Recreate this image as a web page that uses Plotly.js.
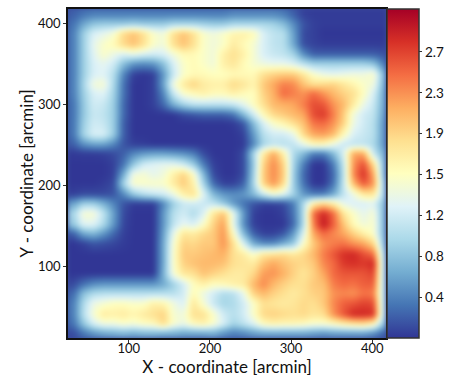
<!DOCTYPE html>
<html>
<head>
<meta charset="utf-8">
<script src="https://cdn.plot.ly/plotly-3.0.1.min.js"></script>
<style>html,body{margin:0;padding:0;background:#fff}</style>
</head>
<body>
<div id="chart" style="width:463px;height:386px"></div>
<script>
var xCoord = [31,43,56,68,80,93,105,117,130,142,154,167,179,191,204,216,228,241,253,265,278,290,302,315,327,339,352,364,376,389,401,413];
var yCoord = [412,400,388,375,363,351,338,326,314,301,289,277,264,252,240,227,215,203,190,178,166,153,141,129,116,104,92,79,67,55,42,30,18];

// estimated values, first row is the top of the map
var zRows = [
[.2,.3,.35,.35,.35,.35,.35,.35,.35,.35,.35,.35,.35,.35,.35,.35,.4,.4,.4,.4,.4,.35,.2,.05,.03,.03,.03,.03,.03,.03,.03,.03],
[.3,.6,.8,.85,.85,.85,.9,.85,.85,.85,.95,.95,.95,.9,.85,.85,.95,.95,.95,.95,.9,.75,.45,.15,.05,.03,.03,.03,.03,.03,.03,.03],
[.35,.85,1.2,1.3,1.45,1.9,2.05,1.85,1.5,1.4,1.85,2.05,1.85,1.5,1.4,1.5,1.65,1.7,1.6,1.2,1.05,1,.55,.1,.05,0,0,0,0,0,0,0],
[.35,.85,1.3,1.5,1.6,1.9,2.05,1.85,1.5,1.4,1.85,2.05,1.85,1.5,1.4,1.5,1.75,1.6,1.45,1.2,1.05,1,.6,.12,.06,.03,.03,.03,.03,.03,.03,.03],
[.35,.85,1.25,1.5,1.35,1.2,1.3,1.2,1.15,1.2,1.4,1.6,1.6,1.5,1.4,1.7,1.85,1.7,1.45,1.2,1.1,1.05,.9,.45,.2,.2,.2,.2,.2,.2,.2,.15],
[.35,.85,1.2,1.3,1.15,.75,.5,.45,.5,.75,1.2,1.5,1.6,1.5,1.4,1.7,1.8,1.6,1.45,1.35,1.3,1.3,1.2,1,.85,.85,.85,.85,.85,.85,.75,.35],
[.35,.85,1.2,1.25,1,.4,.05,0,.05,.5,1.1,1.5,1.6,1.6,1.55,1.55,1.6,1.6,1.6,1.85,1.95,2,2,1.8,1.5,1.35,1.3,1.35,1.4,1.4,1.5,.7],
[.35,.9,1.4,1.45,.95,.3,0,0,.05,.55,1.4,1.75,1.95,1.75,1.7,1.7,1.9,1.8,1.65,2,2.2,2.4,2.35,2.05,1.85,1.9,1.95,1.8,1.65,1.5,1.4,.65],
[.35,.85,1.2,1.25,.9,.3,0,0,.05,.4,1.1,1.5,1.6,1.7,1.6,1.6,1.7,1.6,1.55,1.95,2.15,2.5,2.4,2.3,2.5,2.3,2.1,1.95,1.85,1.55,1.2,.6],
[.3,.8,1.15,1.1,.85,.25,0,0,.05,.25,.65,.9,1.05,1.05,1.05,1.05,1.1,1.3,1.55,1.85,2.1,2.15,2.2,2.4,2.65,2.6,2.3,2.1,1.75,1.35,1.1,.6],
[.3,.8,1.1,1.05,.85,.25,0,0,0,0,0,.1,.15,.2,.2,.2,.3,.7,1.15,1.6,1.9,2,2.1,2.2,2.65,2.75,2.4,2,1.4,1.15,1.05,.55],
[.3,.85,1.15,1.1,.85,.2,0,0,0,0,0,0,0,0,0,0,.02,.15,.7,1.2,1.5,1.65,1.85,2.05,2.45,2.5,2.3,1.95,1.35,1.15,1,.5],
[.3,.9,1.2,1.2,.85,.2,0,0,0,0,0,0,0,0,0,0,0,.05,.5,1,1.15,1.15,1.3,1.9,2.2,2.25,2.1,1.6,1.2,1.1,1,.5],
[.2,.45,.55,.55,.4,.15,.05,.03,0,0,0,0,0,0,0,0,0,.02,.4,.9,1.05,1,1.05,1.3,1.6,1.6,1.35,1.1,1.05,1.05,.95,.5],
[.02,.03,.03,.05,.1,.2,.4,.5,.55,.55,.5,.45,.35,.1,0,0,0,.1,.9,1.75,2.2,1.7,.95,.7,.35,.35,.7,1.2,2.2,2.2,1.1,.65],
[0,0,0,0,.05,.3,.8,1.15,1.25,1.3,1.3,1.15,.85,.35,.05,0,0,.1,.8,1.95,2.35,1.95,.9,.35,0,0,.35,1.05,2.3,2.65,1.9,.7],
[0,0,0,0,.05,.6,1.4,1.45,1.3,1.4,1.7,1.95,1.55,.7,.1,0,0,.1,.85,2,2.35,2,.85,.25,0,0,.25,1,2.35,2.8,2.2,.7],
[0,0,0,.03,.1,.9,1.5,1.5,1.5,1.5,1.75,2,1.7,.9,.25,.05,.05,.2,.9,1.95,2.3,1.9,.85,.3,0,0,.3,1.05,2.1,2.6,2.3,.85],
[.05,.1,.1,.1,.15,.4,.8,1,1.1,1.15,1.35,1.7,1.85,1.25,.7,.5,.45,.5,.7,1.1,1.4,1.25,.9,.5,.35,.35,.6,1.05,1.35,1.75,1.8,.9],
[.55,.85,.85,.65,.4,.15,.03,.03,.03,.4,.85,1.1,1.15,1.1,1.05,.8,.5,.3,.15,.05,.05,.1,.35,.95,1.7,1.9,1.7,1.3,1.2,1.2,1.25,.75],
[.9,1.45,1.45,1.05,.55,.1,0,0,0,.5,1,1.15,.95,1.2,1.8,2.05,1.3,.5,.05,0,0,.05,.3,.95,2.5,2.85,2.5,1.8,1.5,1.3,1.45,.7],
[.8,1.25,1.25,.95,.5,.08,0,0,0,.5,1.05,1.3,1.2,1.5,1.95,2.25,1.3,.45,.05,0,0,0,.25,.95,2.4,2.95,2.55,2.05,1.6,1.4,1.5,.7],
[.2,.6,.7,.5,.25,.05,0,0,0,.55,1.3,1.8,1.75,1.9,2,2.3,1.55,.7,.2,.05,.05,.15,.5,1.2,2.2,2.5,2.35,2.2,1.95,1.7,1.5,.7],
[0,.05,.15,.12,.08,.03,0,0,0,.6,1.45,1.95,1.9,2,2,2.3,1.85,1.2,.6,.4,.4,.6,.8,1.5,2,2.3,2.4,2.45,2.3,2.2,1.9,.75],
[0,0,0,0,0,0,0,0,0,.6,1.5,2,2,2.05,2.1,2.15,1.85,1.75,1.5,1.8,1.85,1.9,1.8,1.9,2.1,2.4,2.6,2.8,2.85,2.65,2.5,.95],
[0,0,0,0,0,0,0,0,0,.6,1.5,1.95,2.05,2.1,2.1,2.05,1.85,1.8,1.75,2.05,2.2,2.05,1.95,1.9,2,2.35,2.5,2.75,2.8,2.75,2.85,1],
[0,0,0,0,0,0,0,0,0,.65,1.45,1.8,1.85,2.05,1.95,1.85,1.75,1.75,1.9,2.25,2.3,2.15,1.95,1.8,1.95,2.2,2.5,2.6,2.6,2.6,2.7,1],
[.1,.3,.45,.5,.5,.5,.5,.5,.5,.6,.85,1.15,1.55,1.7,1.55,1.6,1.7,1.75,2.1,2.35,2.1,1.95,1.85,1.85,2,2.05,2.4,2.5,2.45,2.55,2.55,1],
[.25,.75,.95,1,1,1,1,1,1,1,1,1.15,1.6,1.35,1.15,.95,1,1.3,1.95,2.1,1.95,1.85,1.75,1.85,1.95,2,2.3,2.35,2.3,2.45,2.4,1],
[.35,.95,1.35,1.45,1.55,1.55,1.5,1.5,1.7,1.65,1.4,1.2,1.8,1.45,1.1,.9,.95,1.15,1.5,1.85,1.8,1.75,1.8,1.9,1.85,2,2.35,2.55,2.6,2.7,2.65,1],
[.35,1,1.45,1.75,1.7,1.75,1.65,1.75,1.85,1.95,1.45,1.4,1.85,1.85,1.5,1.15,1,1.15,1.5,1.9,1.95,1.9,1.85,1.9,1.8,1.85,2.3,2.6,2.85,2.85,2.8,1],
[.3,.8,1.2,1.4,1.4,1.5,1.45,1.55,1.6,1.9,1.5,1.35,1.6,1.7,1.5,1.2,.9,1.05,1.25,1.6,1.7,1.65,1.65,1.6,1.5,1.5,1.6,1.75,1.85,1.9,1.7,.8],
[.1,.3,.45,.55,.6,.65,.6,.65,.65,.6,.6,.55,.55,.55,.6,.45,.35,.4,.5,.55,.55,.55,.55,.55,.5,.45,.5,.5,.5,.5,.4,.2]
];

var xTicks = [100,200,300,400];
var yTicks = [100,200,300,400];
var cbarVals = [0.385,0.77,1.155,1.54,1.925,2.31,2.695];
var cbarText = ['0.4','0.8','1.2','1.5','1.9','2.3','2.7'];

var rdylbu = [
  [0,'#313695'],[0.1,'#4575b4'],[0.2,'#74add1'],[0.3,'#abd9e9'],[0.4,'#e0f3f8'],
  [0.5,'#ffffbf'],[0.6,'#fee090'],[0.7,'#fdae61'],[0.8,'#f46d43'],[0.9,'#d73027'],[1,'#a50026']
];

var fontName = 'Lato, "Open Sans", sans-serif';

var trace = {
  type: 'heatmap',
  x: xCoord,
  y: yCoord.slice().reverse(),
  z: zRows.slice().reverse(),
  zmin: 0,
  zmax: 3.1,
  zsmooth: 'best',
  colorscale: rdylbu,
  hoverinfo: 'skip',
  colorbar: {
    thickness: 32,
    len: 1,
    x: 1.003,
    xanchor: 'left',
    y: 0,
    yanchor: 'bottom',
    xpad: 0,
    ypad: 0,
    outlinewidth: 1.5,
    outlinecolor: '#333',
    tickmode: 'array',
    tickvals: cbarVals,
    ticktext: cbarText,
    ticks: 'outside',
    ticklen: 3,
    tickwidth: 1,
    tickcolor: '#333',
    tickfont: {size: 13.5, color: '#111', family: fontName}
  }
};

var layout = {
  width: 463,
  height: 386,
  margin: {l: 68, r: 77, t: 9, b: 48},
  paper_bgcolor: '#fff',
  plot_bgcolor: '#3a4a9c',
  font: {family: fontName, color: '#111'},
  xaxis: {
    range: [25,417],
    tickmode: 'array',
    tickvals: xTicks,
    ticks: 'outside',
    ticklen: 3,
    tickcolor: '#333',
    ticklabelstandoff: -5,
    showgrid: false,
    zeroline: false,
    showline: true,
    mirror: true,
    linecolor: '#111',
    linewidth: 1.5,
    tickfont: {size: 13},
    title: {text: 'X - coordinate [arcmin]', font: {size: 17}, standoff: 3}
  },
  yaxis: {
    range: [12,418],
    tickmode: 'array',
    tickvals: yTicks,
    ticks: 'outside',
    ticklen: 3,
    tickcolor: '#333',
    showgrid: false,
    zeroline: false,
    showline: true,
    mirror: true,
    linecolor: '#111',
    linewidth: 1.5,
    tickfont: {size: 13},
    title: {text: 'Y - coordinate [arcmin]', font: {size: 17}, standoff: 0}
  }
};

Plotly.newPlot('chart', [trace], layout, {displayModeBar: false}).then(function(){
  // soften the bilinear grid of the coarse samples
  document.querySelector('.hm image').style.filter = 'blur(2.5px)';
});
</script>
</body>
</html>
